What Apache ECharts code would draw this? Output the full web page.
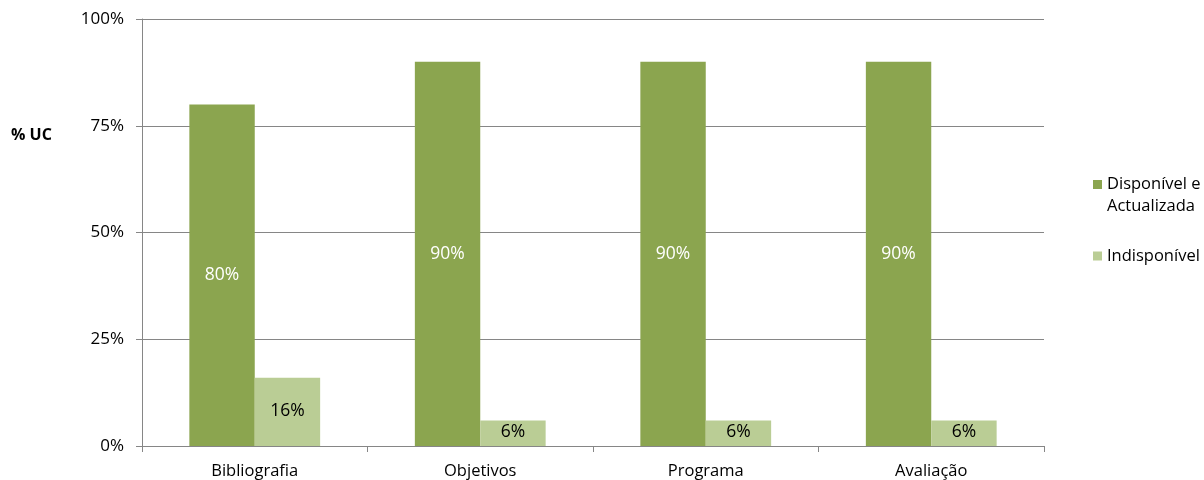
<!DOCTYPE html>
<html>
<head>
<meta charset="utf-8">
<script src="https://cdn.jsdelivr.net/npm/echarts@6/dist/echarts.min.js"></script>
<style>html,body{margin:0;padding:0;background:#fff}#c{width:1204px;height:480px}</style>
</head>
<body>
<div id="c"></div>
<script>
const categories = ['Bibliografia', 'Objetivos', 'Programa', 'Avaliação'];
const seriesNames = ['Disponível e\nActualizada', 'Indisponível'];
const disponivel = [80, 90, 90, 90];
const indisponivel = [16, 6, 6, 6];
const yTicks = [0, 25, 50, 75, 100];
const yAxisTitle = '% UC';

const FONT = '"Open Sans", sans-serif';
const legendText = { fontFamily: FONT, fontSize: 16.5, color: '#000', lineHeight: 22 };
const chart = echarts.init(document.getElementById('c'));
chart.setOption({
  animation: false,
  backgroundColor: '#fff',
  textStyle: { fontFamily: FONT },
  grid: { left: 142, right: 160, top: 19, bottom: 34 },
  legend: [
    {
      orient: 'vertical', left: 1088, top: 168,
      itemWidth: 9, itemHeight: 30, itemGap: 4,
      textStyle: legendText,
      data: [{ name: seriesNames[0], icon: 'path://M0,0h9v9h-9z M0,30h0.001z' }]
    },
    {
      orient: 'vertical', left: 1088, top: 240,
      itemWidth: 9, itemHeight: 9, itemGap: 4,
      textStyle: legendText,
      data: [{ name: seriesNames[1], icon: 'rect' }]
    }
  ],
  graphic: [{
    type: 'text', left: 11, top: 127,
    style: { text: yAxisTitle, font: 'bold 16px ' + FONT, fill: '#000' }
  }],
  xAxis: {
    type: 'category',
    data: categories,
    axisLine: { show: true, lineStyle: { color: '#868686', width: 1 } },
    axisTick: { show: true, interval: 0, alignWithLabel: false, length: 6, lineStyle: { color: '#868686' } },
    axisLabel: { margin: 17, fontSize: 16.5, color: '#000', fontFamily: FONT, interval: 0 }
  },
  yAxis: {
    type: 'value',
    min: 0, max: 100, interval: 25,
    axisLine: { show: true, lineStyle: { color: '#868686', width: 1 } },
    axisTick: { show: true, length: 6, lineStyle: { color: '#868686' } },
    splitLine: { show: true, lineStyle: { color: '#868686', width: 1 } },
    axisLabel: {
      margin: 18, fontSize: 17, color: '#000', fontFamily: FONT,
      formatter: v => yTicks.includes(v) ? v + '%' : ''
    }
  },
  series: [
    {
      name: seriesNames[0], type: 'bar', data: disponivel,
      barGap: '0%', barCategoryGap: '42%',
      itemStyle: { color: '#8ba54f' },
      label: { show: true, position: 'inside', color: '#fff', fontSize: 17.5, fontFamily: FONT, formatter: p => p.value + '%' }
    },
    {
      name: seriesNames[1], type: 'bar', data: indisponivel,
      itemStyle: { color: '#bacd95' },
      label: { show: true, position: 'inside', color: '#000', fontSize: 17.5, fontFamily: FONT,
        formatter: p => p.value + '%', offset: [0, -1] }
    }
  ]
});
</script>
</body>
</html>
